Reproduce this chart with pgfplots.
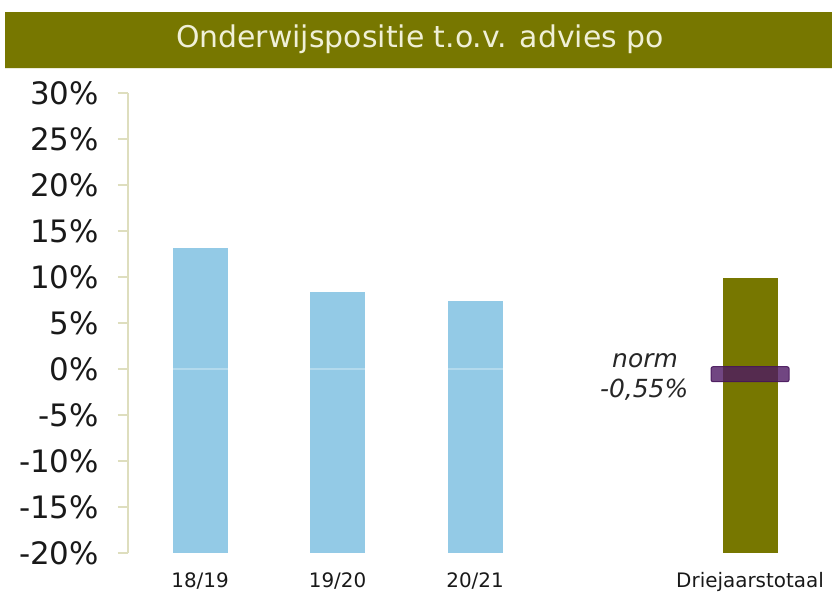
\documentclass[border=0pt]{standalone}
\usepackage{pgfplots}
\pgfplotsset{compat=1.18}
\usepackage{fontspec}
\setmainfont{DejaVu Sans}
\definecolor{olivebar}{RGB}{119,119,0}
\definecolor{barblue}{RGB}{147,202,230}
\definecolor{axiscol}{RGB}{222,222,190}
\definecolor{normpurple}{RGB}{77,24,99}
\definecolor{normdark}{RGB}{70,20,90}
\definecolor{titletext}{RGB}{240,240,215}
\begin{document}
\begin{tikzpicture}
\begin{axis}[
  at={(0,0)}, anchor=south west,
  scale only axis, width=704bp, height=460bp,
  xmin=-0.524, xmax=4.596, ymin=-20, ymax=30,
  axis x line*=bottom, axis y line*=left,
  x axis line style={draw=none},
  y axis line style={draw=axiscol, line width=2.5bp},
  xtick={0,1,2,4},
  xticklabels={18/19,19/20,20/21,Driejaarstotaal},
  major x tick style={draw=none},
  ytick={-20,-15,...,30},
  yticklabels={-20\%,-15\%,-10\%,-5\%,0\%,5\%,10\%,15\%,20\%,25\%,30\%},
  tick align=outside,
  major tick length=10bp,
  major y tick style={draw=axiscol, line width=2.5bp},
  yticklabel style={anchor=east, inner sep=0pt, xshift=-19bp, text=black!90, font=\fontsize{31}{35}\selectfont},
  xticklabel style={anchor=base, inner sep=0pt, yshift=-24bp, text=black!90, font=\fontsize{20}{24}\selectfont},
  clip=false,
]
% bars from the bottom of the axis (-20%) to their value
\addplot[fill=barblue, draw=none] coordinates {(-0.2,-20) (-0.2,13.2) (0.2,13.2) (0.2,-20)} -- cycle;
\addplot[fill=barblue, draw=none] coordinates {(0.8,-20) (0.8,8.4) (1.2,8.4) (1.2,-20)} -- cycle;
\addplot[fill=barblue, draw=none] coordinates {(1.8,-20) (1.8,7.4) (2.2,7.4) (2.2,-20)} -- cycle;
\addplot[fill=olivebar, draw=none] coordinates {(3.8,-20) (3.8,9.9) (4.2,9.9) (4.2,-20)} -- cycle;
% faint zero line
\addplot[draw=white, opacity=0.3, line width=1.5bp] coordinates {(-0.2,0) (2.2,0)};
% norm marker
\addplot[fill=normpurple, draw=normdark, line width=1bp, rounded corners=2bp, fill opacity=0.8, draw opacity=0.9] coordinates {(3.716,-1.38) (3.716,0.25) (4.284,0.25) (4.284,-1.38)} -- cycle;
\node[anchor=base, font=\itshape\fontsize{25}{30}\selectfont, text=black!85] at (axis cs:3.236,0.15) {norm};
\node[anchor=base, font=\itshape\fontsize{25}{30}\selectfont, text=black!85] at (axis cs:3.23,-3.15) {-0,55\%};
\end{axis}
\fill[olivebar] (-123bp,485bp) rectangle (704bp,541bp);
\fill[white!85!olivebar] (-123bp,483.5bp) rectangle (704bp,485bp);
\node[text=titletext, anchor=base, font=\fontsize{30}{34}\selectfont] at (292bp,505bp) {Onderwijspositie t.o.v. advies po};
\pgfresetboundingbox
\path[use as bounding box] (-128bp,-43bp) rectangle (704bp,553bp);
\end{tikzpicture}
\end{document}
